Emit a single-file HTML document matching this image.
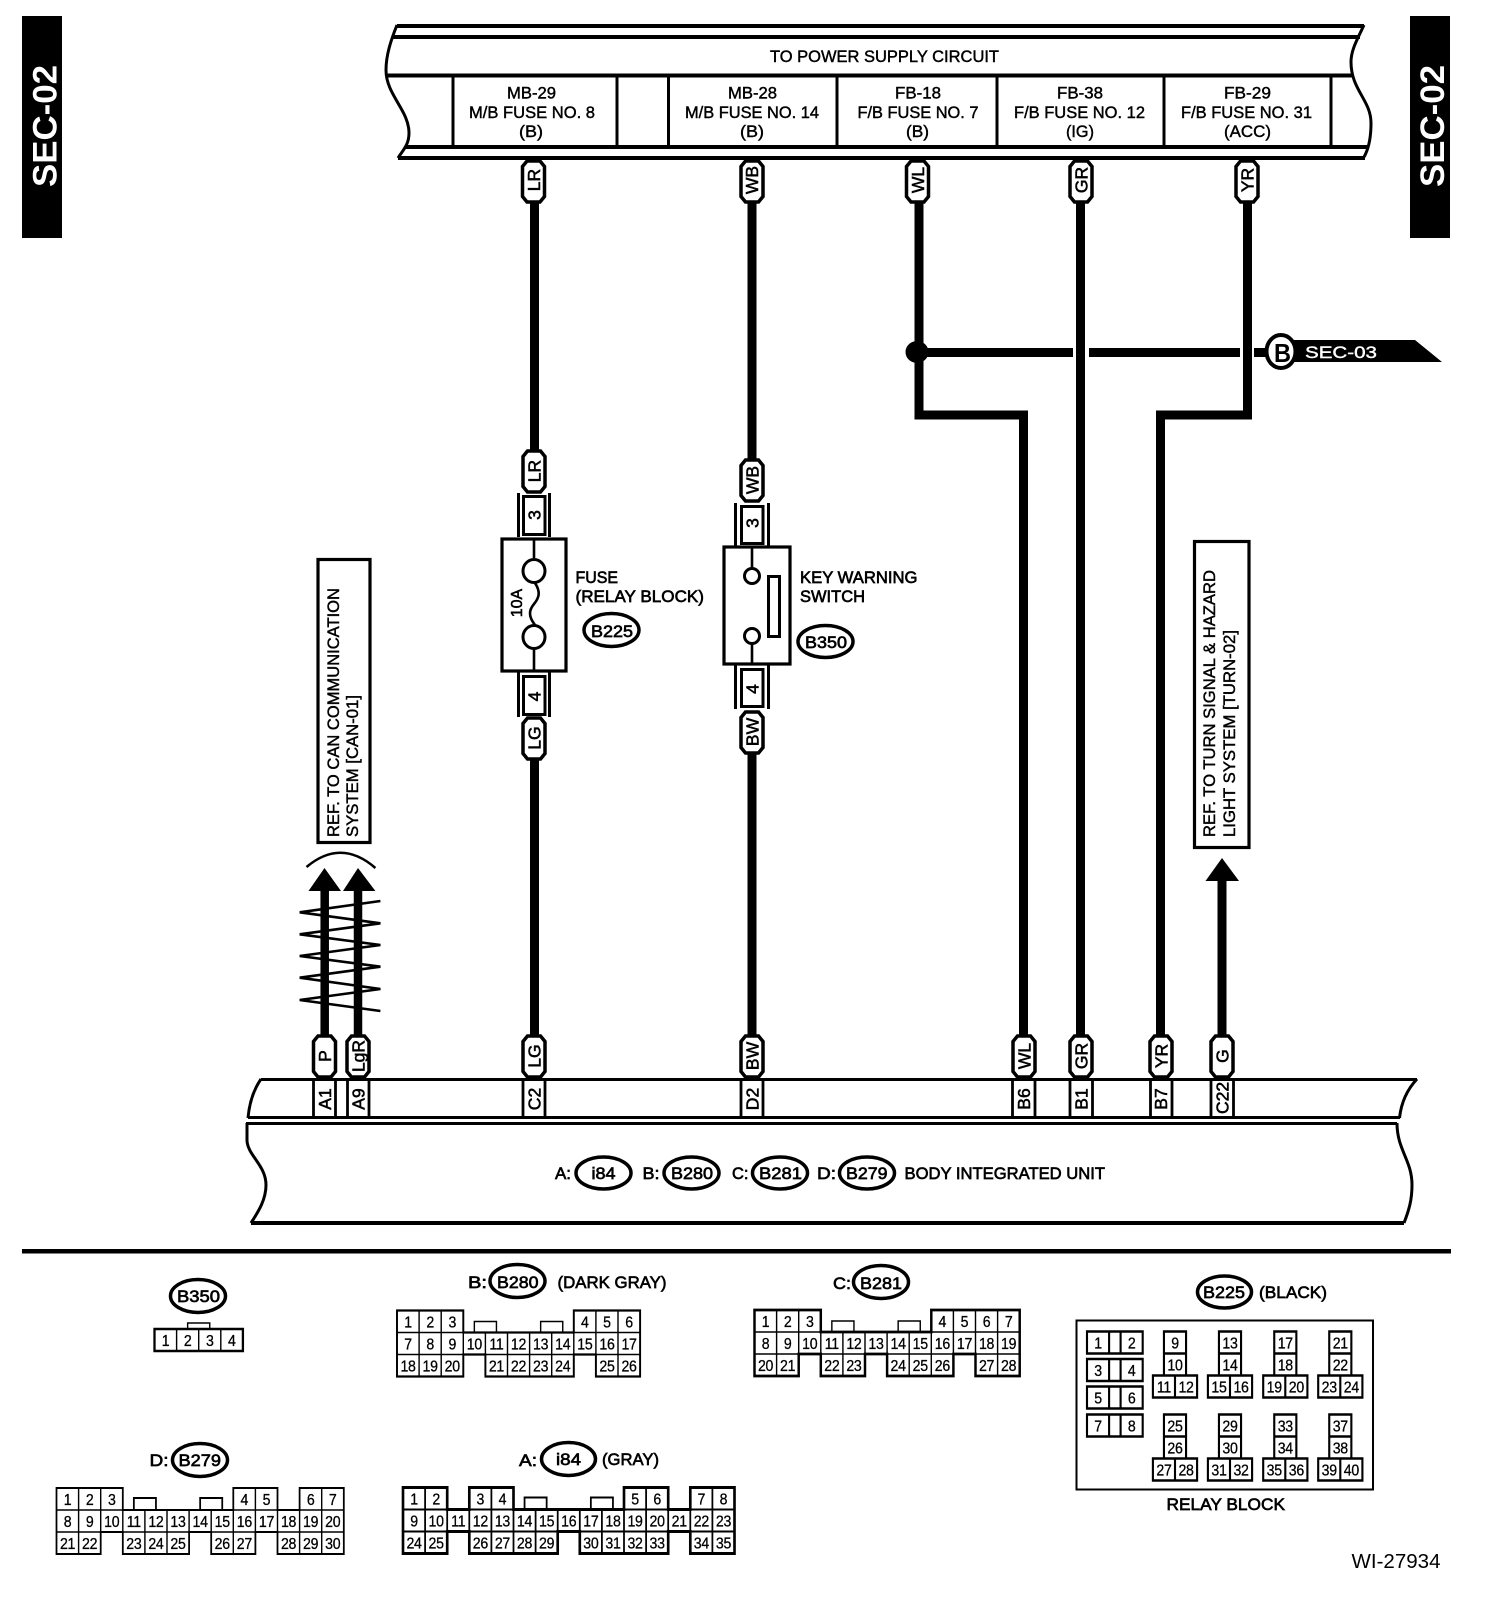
<!DOCTYPE html>
<html><head><meta charset="utf-8"><title>Wiring diagram WI-27934</title>
<style>
html,body{margin:0;padding:0;background:#fff}
svg{display:block}
text{font-family:"Liberation Sans",sans-serif;fill:#000}
.t{font-size:17px;stroke:#000;stroke-width:.45}
.b{font-size:17px;stroke:#000;stroke-width:.65}
.c{text-anchor:middle}
.w{font-size:17.5px;text-anchor:middle;stroke:#000;stroke-width:.55}
.n{font-size:16px;text-anchor:middle;letter-spacing:-.3px;stroke:#000;stroke-width:.3}
.l{fill:none;stroke:#000}
.o{fill:#fff;stroke:#000;stroke-width:2.6}
.i{fill:none;stroke:#000;stroke-width:1.6}
.e{fill:#fff;stroke:#000;stroke-width:3.5}
</style></head><body>
<svg xmlns="http://www.w3.org/2000/svg" width="1504" height="1602" viewBox="0 0 1504 1602">
<defs>
<path id="pill" d="M-6.5 2H6.5L11 7.5V37.5L6.5 43H-6.5L-11 37.5V7.5Z" fill="#fff" stroke="#000" stroke-width="3.5"/>
<path id="tb" d="M-12.5 0H12.5V44H25V66H-25V44H-12.5ZM-12.5 22H12.5M-12.5 44H12.5M0 44V66" fill="#fff" stroke="#000" stroke-width="2.4"/>
<path id="pr" d="M0 0H63V22H0ZM25 0V22M38 0V22" fill="#fff" stroke="#000" stroke-width="2.4"/>
</defs>
<rect width="1504" height="1602" fill="#fff"/>

<!-- side bars -->
<rect x="22" y="16" width="40" height="222" fill="#000"/>
<rect x="1410" y="16" width="40" height="222" fill="#000"/>
<text transform="translate(56.5,187) rotate(-90)" font-size="34" font-weight="bold" style="fill:#fff" textLength="122" lengthAdjust="spacingAndGlyphs">SEC-02</text>
<text transform="translate(1444,187) rotate(-90)" font-size="34" font-weight="bold" style="fill:#fff" textLength="122" lengthAdjust="spacingAndGlyphs">SEC-02</text>

<!-- top frame -->
<g class="l" stroke-width="4">
<path d="M397 26H1364M393 37H1360M386 75.5H1352M406 147H1369M398 158H1365"/>
<path stroke-width="3" d="M397 25C391 40 386 55 386 70C386 95 409 110 409 133C409 145 403 150 398 158"/>
<path stroke-width="3" d="M1364 25C1357 40 1351 50 1351 62C1351 90 1371 100 1371 123C1371 140 1368 150 1364 157"/>
<path stroke-width="3" d="M453 76V146M617 76V146M668.5 76V146M837 76V146M997 76V146M1164 76V146M1331 76V146"/>
</g>
<text class="t" x="770" y="62" textLength="229" lengthAdjust="spacingAndGlyphs">TO POWER SUPPLY CIRCUIT</text>
<text class="t" x="507" y="98.5" textLength="49" lengthAdjust="spacingAndGlyphs">MB-29</text>
<text class="t" x="469" y="118" textLength="126" lengthAdjust="spacingAndGlyphs">M/B FUSE NO. 8</text>
<text class="t" x="519" y="137" textLength="24" lengthAdjust="spacingAndGlyphs">(B)</text>
<text class="t" x="728" y="98.5" textLength="49" lengthAdjust="spacingAndGlyphs">MB-28</text>
<text class="t" x="685" y="118" textLength="134" lengthAdjust="spacingAndGlyphs">M/B FUSE NO. 14</text>
<text class="t" x="740" y="137" textLength="24" lengthAdjust="spacingAndGlyphs">(B)</text>
<text class="t" x="895" y="98.5" textLength="46" lengthAdjust="spacingAndGlyphs">FB-18</text>
<text class="t" x="857.5" y="118" textLength="121" lengthAdjust="spacingAndGlyphs">F/B FUSE NO. 7</text>
<text class="t" x="906" y="137" textLength="23" lengthAdjust="spacingAndGlyphs">(B)</text>
<text class="t" x="1057" y="98.5" textLength="46" lengthAdjust="spacingAndGlyphs">FB-38</text>
<text class="t" x="1014" y="118" textLength="131" lengthAdjust="spacingAndGlyphs">F/B FUSE NO. 12</text>
<text class="t" x="1066" y="137" textLength="28" lengthAdjust="spacingAndGlyphs">(IG)</text>
<text class="t" x="1224" y="98.5" textLength="47" lengthAdjust="spacingAndGlyphs">FB-29</text>
<text class="t" x="1181" y="118" textLength="131" lengthAdjust="spacingAndGlyphs">F/B FUSE NO. 31</text>
<text class="t" x="1224" y="137" textLength="47" lengthAdjust="spacingAndGlyphs">(ACC)</text>

<!-- wires -->
<g class="l" stroke-width="9">
<path d="M534.5 200V452M534.5 758V1036"/>
<path d="M752 200V460M752 752V1036"/>
<path d="M919 200V415H1023.5V1036"/>
<path d="M1080.5 200V1036"/>
<path d="M1247.5 200V415H1160.5V1036"/>
<path d="M919 352.5H1073M1089 352.5H1240M1254 352.5H1270"/>
<path d="M1222 875V1036"/>
<path stroke-width="8.5" d="M324.7 885V1036M358 885V1036"/>
</g>
<ellipse cx="917" cy="352" rx="11.5" ry="11" fill="#000"/>

<!-- SEC-03 flag -->
<path d="M1285 340H1415L1442 362H1285Z" fill="#000"/>
<ellipse cx="1281" cy="351.5" rx="14.5" ry="16.5" fill="#fff" stroke="#000" stroke-width="4"/>
<text x="1274" y="362" font-size="26" font-weight="bold" textLength="17" lengthAdjust="spacingAndGlyphs">B</text>
<text x="1305" y="358" font-size="17" style="fill:#fff;stroke:#fff;stroke-width:.4" textLength="72" lengthAdjust="spacingAndGlyphs">SEC-03</text>

<!-- arrows -->
<path d="M324.5 868L308.5 891H341ZM358 868L343 891H375.4Z" fill="#000"/>
<path d="M1222 858L1205.5 881H1239Z" fill="#000"/>
<path class="l" stroke-width="2.5" d="M306.5 867Q341 838 375.4 868"/>
<path class="l" stroke-width="2.6" d="M380.4 901L299.7 912.3L380.4 923.3L299.7 934.3L380.4 945L299.7 956L380.4 966.7L299.7 977.7L380.4 989L299.7 1000L380.4 1011"/>

<!-- REF boxes -->
<rect x="318" y="559.5" width="52" height="283" fill="#fff" stroke="#000" stroke-width="3.2"/>
<text class="t" transform="translate(339,837) rotate(-90)" textLength="249" lengthAdjust="spacingAndGlyphs">REF. TO CAN COMMUNICATION</text>
<text class="t" transform="translate(358,837) rotate(-90)" textLength="142" lengthAdjust="spacingAndGlyphs">SYSTEM [CAN-01]</text>
<rect x="1194.5" y="541.5" width="54.5" height="306" fill="#fff" stroke="#000" stroke-width="3.2"/>
<text class="t" transform="translate(1215,837) rotate(-90)" textLength="267" lengthAdjust="spacingAndGlyphs">REF. TO TURN SIGNAL &amp; HAZARD</text>
<text class="t" transform="translate(1235,837) rotate(-90)" textLength="207" lengthAdjust="spacingAndGlyphs">LIGHT SYSTEM [TURN-02]</text>

<!-- fuse -->
<path class="l" stroke-width="3" d="M518.5 493V537M549.5 493V537M518.5 672V717M549.5 672V717"/>
<rect x="523.5" y="496.5" width="21.5" height="38" fill="#fff" stroke="#000" stroke-width="3"/>
<rect x="523.5" y="676.5" width="21.5" height="38" fill="#fff" stroke="#000" stroke-width="3"/>
<rect x="502" y="539" width="64" height="132" fill="#fff" stroke="#000" stroke-width="3.2"/>
<path class="l" stroke-width="2.6" d="M534 540V558M534 649V670"/>
<ellipse cx="534" cy="571" rx="11" ry="11.5" fill="#fff" stroke="#000" stroke-width="3"/>
<ellipse cx="534" cy="637" rx="11" ry="11.5" fill="#fff" stroke="#000" stroke-width="3"/>
<path class="l" stroke-width="2.6" d="M535 583C541 592 539 598 534 604C529 610 528 616 535 625"/>
<text class="w" transform="translate(522,603) rotate(-90)" style="font-size:16px">10A</text>
<text class="w" transform="translate(540.5,515) rotate(-90)">3</text>
<text class="w" transform="translate(540.5,696.5) rotate(-90)">4</text>
<text class="b" x="575.5" y="583" textLength="42.5" lengthAdjust="spacingAndGlyphs">FUSE</text>
<text class="b" x="575.5" y="602" textLength="128.5" lengthAdjust="spacingAndGlyphs">(RELAY BLOCK)</text>
<ellipse class="e" cx="611.5" cy="630" rx="27.5" ry="16.5"/>
<text class="b c" x="612" y="637" style="font-size:16.5px" textLength="42" lengthAdjust="spacingAndGlyphs">B225</text>

<!-- switch -->
<path class="l" stroke-width="3" d="M735.5 503V546M768.5 503V546M735.5 665V709M768.5 665V709"/>
<rect x="741.5" y="506.5" width="21.5" height="37" fill="#fff" stroke="#000" stroke-width="3"/>
<rect x="741.5" y="669.5" width="21.5" height="37" fill="#fff" stroke="#000" stroke-width="3"/>
<rect x="724" y="547" width="66" height="117" fill="#fff" stroke="#000" stroke-width="3.2"/>
<path class="l" stroke-width="2.6" d="M752 548V568M752 644V663"/>
<ellipse cx="752" cy="576" rx="7.5" ry="7.5" fill="#fff" stroke="#000" stroke-width="3"/>
<ellipse cx="752" cy="636" rx="7.5" ry="7.5" fill="#fff" stroke="#000" stroke-width="3"/>
<rect x="768.5" y="576.5" width="11" height="60" fill="#fff" stroke="#000" stroke-width="3"/>
<text class="w" transform="translate(758.5,523) rotate(-90)">3</text>
<text class="w" transform="translate(758.5,689) rotate(-90)">4</text>
<text class="b" x="800" y="583" textLength="117.5" lengthAdjust="spacingAndGlyphs">KEY WARNING</text>
<text class="b" x="800" y="602" textLength="65" lengthAdjust="spacingAndGlyphs">SWITCH</text>
<ellipse class="e" cx="825.5" cy="641.5" rx="27.5" ry="16"/>
<text class="b c" x="826" y="648" style="font-size:16.5px" textLength="42" lengthAdjust="spacingAndGlyphs">B350</text>

<!-- pills -->
<use href="#pill" x="533.5" y="159"/><use href="#pill" x="752" y="159"/><use href="#pill" x="917.5" y="159"/><use href="#pill" x="1081" y="159"/><use href="#pill" x="1247" y="159"/>
<use href="#pill" x="534" y="449"/><use href="#pill" x="534" y="716"/><use href="#pill" x="752" y="458"/><use href="#pill" x="752" y="710"/>
<use href="#pill" x="324.5" y="1034"/><use href="#pill" x="358" y="1034"/><use href="#pill" x="534" y="1034"/><use href="#pill" x="752" y="1034"/><use href="#pill" x="1024" y="1034"/><use href="#pill" x="1081" y="1034"/><use href="#pill" x="1161" y="1034"/><use href="#pill" x="1222" y="1034"/>
<text class="w" transform="translate(540,180) rotate(-90)">LR</text>
<text class="w" transform="translate(758,180) rotate(-90)">WB</text>
<text class="w" transform="translate(924,180) rotate(-90)">WL</text>
<text class="w" transform="translate(1087.5,180) rotate(-90)">GR</text>
<text class="w" transform="translate(1253.5,180) rotate(-90)">YR</text>
<text class="w" transform="translate(540.5,471) rotate(-90)">LR</text>
<text class="w" transform="translate(540.5,738) rotate(-90)">LG</text>
<text class="w" transform="translate(758.5,480) rotate(-90)">WB</text>
<text class="w" transform="translate(758.5,732) rotate(-90)">BW</text>
<text class="w" transform="translate(331,1056) rotate(-90)">P</text>
<text class="w" transform="translate(364.5,1056) rotate(-90)">LgR</text>
<text class="w" transform="translate(540.5,1056) rotate(-90)">LG</text>
<text class="w" transform="translate(758.5,1056) rotate(-90)">BW</text>
<text class="w" transform="translate(1030.5,1056) rotate(-90)">WL</text>
<text class="w" transform="translate(1087.5,1056) rotate(-90)">GR</text>
<text class="w" transform="translate(1167.5,1056) rotate(-90)">YR</text>
<text class="w" transform="translate(1228.5,1056) rotate(-90)">G</text>

<!-- body unit -->
<g class="l" stroke-width="3">
<path d="M261 1079.5H1417M248 1117.5H1400M246 1123.5H1397"/>
<path stroke-width="4" d="M251 1223H1404"/>
<path d="M261 1079Q250 1095 248 1118M247 1123V1140C247 1155 266 1165 266 1185C266 1200 258 1212 251 1223"/>
<path d="M1417 1079Q1402 1095 1399.5 1118M1397 1123C1397 1150 1412 1160 1412 1185C1412 1200 1409 1210 1404 1223"/>
<path stroke-width="2.8" d="M313.5 1078V1117M335.5 1078V1117M347.5 1078V1117M369 1078V1117M523 1078V1117M545 1078V1117M741 1078V1117M763 1078V1117M1012.5 1078V1117M1035 1078V1117M1070 1078V1117M1092.5 1078V1117M1150.5 1078V1117M1172 1078V1117M1211 1078V1117M1233.5 1078V1117"/>
</g>
<text class="w" transform="translate(331,1099) rotate(-90)">A1</text>
<text class="w" transform="translate(364.5,1099) rotate(-90)">A9</text>
<text class="w" transform="translate(540.5,1099) rotate(-90)">C2</text>
<text class="w" transform="translate(758.5,1099) rotate(-90)">D2</text>
<text class="w" transform="translate(1030,1099) rotate(-90)">B6</text>
<text class="w" transform="translate(1087.5,1099) rotate(-90)">B1</text>
<text class="w" transform="translate(1167,1099) rotate(-90)">B7</text>
<text class="w" transform="translate(1228.5,1098) rotate(-90)">C22</text>
<text class="b" x="555" y="1179" textLength="16" lengthAdjust="spacingAndGlyphs">A:</text>
<ellipse class="e" cx="603.5" cy="1173" rx="27.5" ry="16"/>
<text class="b" x="591.5" y="1179" textLength="24" lengthAdjust="spacingAndGlyphs">i84</text>
<text class="b" x="642.5" y="1179" textLength="17" lengthAdjust="spacingAndGlyphs">B:</text>
<ellipse class="e" cx="691.5" cy="1173" rx="27.5" ry="16"/>
<text class="b" x="671" y="1179" textLength="42" lengthAdjust="spacingAndGlyphs">B280</text>
<text class="b" x="732" y="1179" textLength="16.5" lengthAdjust="spacingAndGlyphs">C:</text>
<ellipse class="e" cx="780" cy="1173" rx="27.5" ry="16"/>
<text class="b" x="759" y="1179" textLength="43" lengthAdjust="spacingAndGlyphs">B281</text>
<text class="b" x="817" y="1179" textLength="19" lengthAdjust="spacingAndGlyphs">D:</text>
<ellipse class="e" cx="867" cy="1173" rx="27.5" ry="16"/>
<text class="b" x="846" y="1179" textLength="41.5" lengthAdjust="spacingAndGlyphs">B279</text>
<text class="b" x="904.5" y="1179" textLength="200.5" lengthAdjust="spacingAndGlyphs">BODY INTEGRATED UNIT</text>

<!-- divider -->
<rect x="22" y="1249" width="1429" height="4.5" fill="#000"/>

<!-- B350 connector -->
<ellipse class="e" cx="198" cy="1296" rx="27.5" ry="16.5"/>
<text class="b" x="177" y="1302" textLength="43" lengthAdjust="spacingAndGlyphs">B350</text>
<g transform="translate(154.5,1329) scale(.884,1)">
<path class="i" d="M37.5 0V-6H62.5V0"/>
<path class="o" d="M0 0H100V22H0Z"/><path class="i" d="M25 0V22M50 0V22M75 0V22"/>
<text class="n" x="12.5" y="17">1</text><text class="n" x="37.5" y="17">2</text><text class="n" x="62.5" y="17">3</text><text class="n" x="87.5" y="17">4</text>
</g>

<!-- B280 -->
<text class="b" x="468" y="1288" textLength="19" lengthAdjust="spacingAndGlyphs">B:</text>
<ellipse class="e" cx="517.5" cy="1281" rx="27.5" ry="16.5"/>
<text class="b" x="497" y="1288" textLength="41.5" lengthAdjust="spacingAndGlyphs">B280</text>
<text class="b" x="557.5" y="1288" textLength="109" lengthAdjust="spacingAndGlyphs">(DARK GRAY)</text>
<g transform="translate(397,1310.5) scale(.884,1)">
<path class="i" d="M87.5 22V11H112.5V22M162.5 22V11H187.5V22"/>
<path class="o" d="M0 0H75V22H200V0H275V66H225V44H200V66H100V44H75V66H0Z" style="stroke-width:2.2"/>
<path class="i" d="M0 22H275M0 44H275M25 0V66M50 0V66M75 22V44M100 22V44M125 22V66M150 22V66M175 22V66M200 22V44M225 0V44M250 0V66"/>
<text class="n" x="12.5" y="17">1</text><text class="n" x="37.5" y="17">2</text><text class="n" x="62.5" y="17">3</text><text class="n" x="212.5" y="17">4</text><text class="n" x="237.5" y="17">5</text><text class="n" x="262.5" y="17">6</text>
<text class="n" x="12.5" y="39">7</text><text class="n" x="37.5" y="39">8</text><text class="n" x="62.5" y="39">9</text><text class="n" x="87.5" y="39">10</text><text class="n" x="112.5" y="39">11</text><text class="n" x="137.5" y="39">12</text><text class="n" x="162.5" y="39">13</text><text class="n" x="187.5" y="39">14</text><text class="n" x="212.5" y="39">15</text><text class="n" x="237.5" y="39">16</text><text class="n" x="262.5" y="39">17</text>
<text class="n" x="12.5" y="61">18</text><text class="n" x="37.5" y="61">19</text><text class="n" x="62.5" y="61">20</text><text class="n" x="112.5" y="61">21</text><text class="n" x="137.5" y="61">22</text><text class="n" x="162.5" y="61">23</text><text class="n" x="187.5" y="61">24</text><text class="n" x="237.5" y="61">25</text><text class="n" x="262.5" y="61">26</text>
</g>

<!-- B281 -->
<text class="b" x="833" y="1289" textLength="18" lengthAdjust="spacingAndGlyphs">C:</text>
<ellipse class="e" cx="881" cy="1282" rx="27.5" ry="16.5"/>
<text class="b" x="860" y="1289" textLength="42" lengthAdjust="spacingAndGlyphs">B281</text>
<g transform="translate(754.5,1310) scale(.884,1)">
<path class="i" d="M87.5 22V11H112.5V22M162.5 22V11H187.5V22"/>
<path class="o" d="M0 0H75V22H200V0H300V66H250V44H225V66H150V44H125V66H75V44H50V66H0Z" style="stroke-width:2.8"/>
<path class="i" d="M0 22H300M0 44H300M25 0V66M50 0V44M75 22V44M100 22V66M125 22V44M150 22V44M175 22V66M200 22V66M225 0V44M250 0V44M275 0V66"/>
<text class="n" x="12.5" y="17">1</text><text class="n" x="37.5" y="17">2</text><text class="n" x="62.5" y="17">3</text><text class="n" x="212.5" y="17">4</text><text class="n" x="237.5" y="17">5</text><text class="n" x="262.5" y="17">6</text><text class="n" x="287.5" y="17">7</text>
<text class="n" x="12.5" y="39">8</text><text class="n" x="37.5" y="39">9</text><text class="n" x="62.5" y="39">10</text><text class="n" x="87.5" y="39">11</text><text class="n" x="112.5" y="39">12</text><text class="n" x="137.5" y="39">13</text><text class="n" x="162.5" y="39">14</text><text class="n" x="187.5" y="39">15</text><text class="n" x="212.5" y="39">16</text><text class="n" x="237.5" y="39">17</text><text class="n" x="262.5" y="39">18</text><text class="n" x="287.5" y="39">19</text>
<text class="n" x="12.5" y="61">20</text><text class="n" x="37.5" y="61">21</text><text class="n" x="87.5" y="61">22</text><text class="n" x="112.5" y="61">23</text><text class="n" x="162.5" y="61">24</text><text class="n" x="187.5" y="61">25</text><text class="n" x="212.5" y="61">26</text><text class="n" x="262.5" y="61">27</text><text class="n" x="287.5" y="61">28</text>
</g>

<!-- B279 -->
<text class="b" x="149.5" y="1466" textLength="19" lengthAdjust="spacingAndGlyphs">D:</text>
<ellipse class="e" cx="200" cy="1460" rx="27.5" ry="16.5"/>
<text class="b" x="178.5" y="1466" textLength="42.5" lengthAdjust="spacingAndGlyphs">B279</text>
<g transform="translate(56.5,1488) scale(.884,1)">
<path class="i" d="M87.5 22V10H112.5V22M162.5 22V10H187.5V22" style="stroke-width:2"/>
<path class="o" d="M0 0H75V22H200V0H250V22H275V0H325V66H250V44H225V66H175V44H150V66H75V44H50V66H0Z" style="stroke-width:2"/>
<path class="i" d="M0 22H325M0 44H325M25 0V66M50 0V66M75 22V44M100 22V66M125 22V66M150 22V44M175 22V44M200 22V66M225 0V44M250 22V44M275 22V66M300 0V66"/>
<text class="n" x="12.5" y="17">1</text><text class="n" x="37.5" y="17">2</text><text class="n" x="62.5" y="17">3</text><text class="n" x="212.5" y="17">4</text><text class="n" x="237.5" y="17">5</text><text class="n" x="287.5" y="17">6</text><text class="n" x="312.5" y="17">7</text>
<text class="n" x="12.5" y="39">8</text><text class="n" x="37.5" y="39">9</text><text class="n" x="62.5" y="39">10</text><text class="n" x="87.5" y="39">11</text><text class="n" x="112.5" y="39">12</text><text class="n" x="137.5" y="39">13</text><text class="n" x="162.5" y="39">14</text><text class="n" x="187.5" y="39">15</text><text class="n" x="212.5" y="39">16</text><text class="n" x="237.5" y="39">17</text><text class="n" x="262.5" y="39">18</text><text class="n" x="287.5" y="39">19</text><text class="n" x="312.5" y="39">20</text>
<text class="n" x="12.5" y="61">21</text><text class="n" x="37.5" y="61">22</text><text class="n" x="87.5" y="61">23</text><text class="n" x="112.5" y="61">24</text><text class="n" x="137.5" y="61">25</text><text class="n" x="187.5" y="61">26</text><text class="n" x="212.5" y="61">27</text><text class="n" x="262.5" y="61">28</text><text class="n" x="287.5" y="61">29</text><text class="n" x="312.5" y="61">30</text>
</g>

<!-- i84 -->
<text class="b" x="519" y="1466" textLength="18" lengthAdjust="spacingAndGlyphs">A:</text>
<ellipse class="e" cx="568.5" cy="1459" rx="27" ry="16.5"/>
<text class="b" x="556" y="1465" textLength="25" lengthAdjust="spacingAndGlyphs">i84</text>
<text class="b" x="602" y="1465" textLength="57" lengthAdjust="spacingAndGlyphs">(GRAY)</text>
<g transform="translate(403,1487.5) scale(.884,1)">
<path class="i" d="M137.5 22V10H162.5V22M212.5 22V10H237.5V22" style="stroke-width:2"/>
<path class="o" d="M0 0H50V22H75V0H125V22H250V0H300V22H325V0H375V66H325V44H300V66H200V44H175V66H75V44H50V66H0Z" style="stroke-width:3"/>
<path class="i" d="M0 22H375M0 44H375M25 0V66M50 22V44M75 22V44M100 0V66M125 22V66M150 22V66M175 22V44M200 22V44M225 22V66M250 22V66M275 0V66M300 22V44M325 22V44M350 0V66" style="stroke-width:2"/>
<text class="n" x="12.5" y="17">1</text><text class="n" x="37.5" y="17">2</text><text class="n" x="87.5" y="17">3</text><text class="n" x="112.5" y="17">4</text><text class="n" x="262.5" y="17">5</text><text class="n" x="287.5" y="17">6</text><text class="n" x="337.5" y="17">7</text><text class="n" x="362.5" y="17">8</text>
<text class="n" x="12.5" y="39">9</text><text class="n" x="37.5" y="39">10</text><text class="n" x="62.5" y="39">11</text><text class="n" x="87.5" y="39">12</text><text class="n" x="112.5" y="39">13</text><text class="n" x="137.5" y="39">14</text><text class="n" x="162.5" y="39">15</text><text class="n" x="187.5" y="39">16</text><text class="n" x="212.5" y="39">17</text><text class="n" x="237.5" y="39">18</text><text class="n" x="262.5" y="39">19</text><text class="n" x="287.5" y="39">20</text><text class="n" x="312.5" y="39">21</text><text class="n" x="337.5" y="39">22</text><text class="n" x="362.5" y="39">23</text>
<text class="n" x="12.5" y="61">24</text><text class="n" x="37.5" y="61">25</text><text class="n" x="87.5" y="61">26</text><text class="n" x="112.5" y="61">27</text><text class="n" x="137.5" y="61">28</text><text class="n" x="162.5" y="61">29</text><text class="n" x="212.5" y="61">30</text><text class="n" x="237.5" y="61">31</text><text class="n" x="262.5" y="61">32</text><text class="n" x="287.5" y="61">33</text><text class="n" x="337.5" y="61">34</text><text class="n" x="362.5" y="61">35</text>
</g>

<!-- relay block -->
<ellipse class="e" cx="1224.5" cy="1292" rx="27" ry="16"/>
<text class="b" x="1203" y="1298" textLength="42" lengthAdjust="spacingAndGlyphs">B225</text>
<text class="b" x="1259" y="1298" textLength="68" lengthAdjust="spacingAndGlyphs">(BLACK)</text>
<rect x="1076.5" y="1320.5" width="296.5" height="169" fill="#fff" stroke="#000" stroke-width="2"/>
<g transform="translate(1087,1331.5) scale(.884,1)"><use href="#pr"/><text class="n" x="12.5" y="17">1</text><text class="n" x="50.5" y="17">2</text></g>
<g transform="translate(1087,1359) scale(.884,1)"><use href="#pr"/><text class="n" x="12.5" y="17">3</text><text class="n" x="50.5" y="17">4</text></g>
<g transform="translate(1087,1386.5) scale(.884,1)"><use href="#pr"/><text class="n" x="12.5" y="17">5</text><text class="n" x="50.5" y="17">6</text></g>
<g transform="translate(1087,1414.5) scale(.884,1)"><use href="#pr"/><text class="n" x="12.5" y="17">7</text><text class="n" x="50.5" y="17">8</text></g>
<g transform="translate(1175,1331.5) scale(.884,1)"><use href="#tb"/><text class="n" x="0" y="17">9</text><text class="n" x="0" y="39">10</text><text class="n" x="-12.5" y="61">11</text><text class="n" x="12.5" y="61">12</text></g>
<g transform="translate(1230,1331.5) scale(.884,1)"><use href="#tb"/><text class="n" x="0" y="17">13</text><text class="n" x="0" y="39">14</text><text class="n" x="-12.5" y="61">15</text><text class="n" x="12.5" y="61">16</text></g>
<g transform="translate(1285.3,1331.5) scale(.884,1)"><use href="#tb"/><text class="n" x="0" y="17">17</text><text class="n" x="0" y="39">18</text><text class="n" x="-12.5" y="61">19</text><text class="n" x="12.5" y="61">20</text></g>
<g transform="translate(1340.3,1331.5) scale(.884,1)"><use href="#tb"/><text class="n" x="0" y="17">21</text><text class="n" x="0" y="39">22</text><text class="n" x="-12.5" y="61">23</text><text class="n" x="12.5" y="61">24</text></g>
<g transform="translate(1175,1414.5) scale(.884,1)"><use href="#tb"/><text class="n" x="0" y="17">25</text><text class="n" x="0" y="39">26</text><text class="n" x="-12.5" y="61">27</text><text class="n" x="12.5" y="61">28</text></g>
<g transform="translate(1230,1414.5) scale(.884,1)"><use href="#tb"/><text class="n" x="0" y="17">29</text><text class="n" x="0" y="39">30</text><text class="n" x="-12.5" y="61">31</text><text class="n" x="12.5" y="61">32</text></g>
<g transform="translate(1285.3,1414.5) scale(.884,1)"><use href="#tb"/><text class="n" x="0" y="17">33</text><text class="n" x="0" y="39">34</text><text class="n" x="-12.5" y="61">35</text><text class="n" x="12.5" y="61">36</text></g>
<g transform="translate(1340.3,1414.5) scale(.884,1)"><use href="#tb"/><text class="n" x="0" y="17">37</text><text class="n" x="0" y="39">38</text><text class="n" x="-12.5" y="61">39</text><text class="n" x="12.5" y="61">40</text></g>
<text class="b" x="1166.5" y="1510" textLength="118.5" lengthAdjust="spacingAndGlyphs">RELAY BLOCK</text>
<text x="1351.5" y="1568" font-size="20" textLength="89" lengthAdjust="spacingAndGlyphs">WI-27934</text>
</svg>
</body></html>
